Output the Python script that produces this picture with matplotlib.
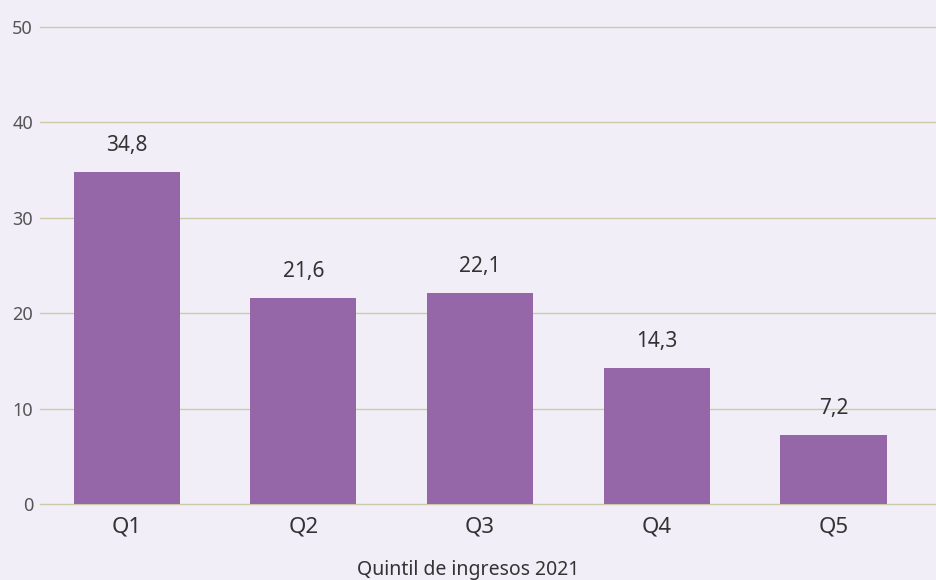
import matplotlib.pyplot as plt
import numpy as np

quintiles = ["Q1", "Q2", "Q3", "Q4", "Q5"]
values = [34.8, 21.6, 22.1, 14.3, 7.2]
value_labels = ["34,8", "21,6", "22,1", "14,3", "7,2"]
yticks = [0, 10, 20, 30, 40, 50]

bg = "#f1eef8"
bar_color = "#9667a8"
grid_color = "#cbcbaa"
text_color = "#333333"

plt.rcParams['font.family'] = ['Noto Sans', 'DejaVu Sans']

fig = plt.figure(figsize=(9.36, 5.8), dpi=100)
fig.patch.set_facecolor(bg)
ax = fig.add_axes([0.0427, 0.131, 0.9573, 0.8224])
ax.set_facecolor(bg)

x = np.arange(len(quintiles))
ax.bar(x, values, width=0.6, color=bar_color, zorder=3)

for xi, v, lab in zip(x, values, value_labels):
	ax.annotate(lab, (xi, v), xytext=(0, 19), textcoords="offset points",
				ha="center", va="center", fontsize=15, color=text_color)

ax.set_ylim(0, 50)
ax.set_xlim(-0.49, 4.58)
ax.set_yticks(yticks)
ax.set_yticklabels([str(t) for t in yticks], fontsize=13, color="#555555")
ax.set_xticks(x)
ax.set_xticklabels(quintiles, fontsize=16, color=text_color)
ax.tick_params(axis="both", length=0)
ax.tick_params(axis="x", pad=9)
ax.tick_params(axis="y", pad=5)
ax.grid(axis="y", color=grid_color, linewidth=1.0, zorder=0)
ax.set_axisbelow(True)
for gl in ax.get_ygridlines():
	gl.set_clip_on(False)
for s in ax.spines.values():
	s.set_visible(False)

ax.set_xlabel("Quintil de ingresos 2021", fontsize=14, color=text_color)
ax.xaxis.set_label_coords(0.4777, -0.118)

fig.savefig("out.png", dpi=100, facecolor=bg)
